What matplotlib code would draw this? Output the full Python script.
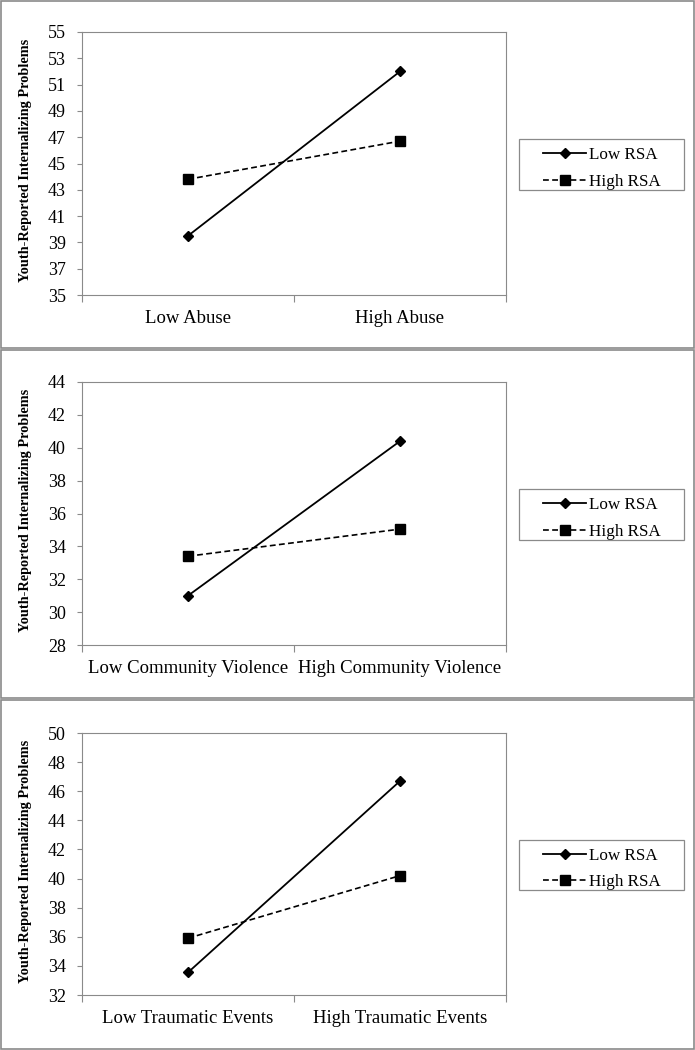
import numpy as np
import matplotlib.pyplot as plt
from matplotlib.patches import Rectangle

plt.rcParams['font.family'] = ['Liberation Serif', 'DejaVu Serif']

# data
cats_abuse = ["Low Abuse", "High Abuse"]
cats_cv = ["Low Community Violence", "High Community Violence"]
cats_te = ["Low Traumatic Events", "High Traumatic Events"]

low_rsa_abuse = [39.5, 52.0]
high_rsa_abuse = [43.8, 46.7]
low_rsa_cv = [31.0, 40.4]
high_rsa_cv = [33.4, 35.05]
low_rsa_te = [33.55, 46.7]
high_rsa_te = [35.9, 40.2]

yticks_abuse = list(range(35, 56, 2))
yticks_cv = list(range(28, 45, 2))
yticks_te = list(range(32, 51, 2))

series_labels = ["Low RSA", "High RSA"]
ylabel = "Youth-Reported Internalizing Problems"

W, H = 695, 1050
fig = plt.figure(figsize=(W / 100, H / 100), dpi=100)

gray = '#8a8a8a'


def fx(px):
    return px / W


def fy(py):
    return 1 - py / H


panels = [
    # border top/bottom, axes top/bottom, legend box top/bottom
    (1, 348, 32, 295, 139, 190, cats_abuse, low_rsa_abuse, high_rsa_abuse, yticks_abuse),
    (350, 698, 382, 645, 489, 540, cats_cv, low_rsa_cv, high_rsa_cv, yticks_cv),
    (700, 1049, 733, 995, 840, 890, cats_te, low_rsa_te, high_rsa_te, yticks_te),
]

for btop, bbot, atop, abot, ltop, lbot, cats, low, high, yt in panels:
    # panel frame
    fig.patches.append(Rectangle((fx(1), fy(bbot)), fx(693), (bbot - btop) / H,
                                 transform=fig.transFigure, fill=False,
                                 edgecolor=gray, linewidth=1.2))
    # legend frame
    fig.patches.append(Rectangle((fx(519), fy(lbot)), fx(684 - 519), (lbot - ltop) / H,
                                 transform=fig.transFigure, fill=False,
                                 edgecolor=gray, linewidth=0.9))
    ax = fig.add_axes([fx(82), fy(abot), fx(506 - 82), (abot - atop) / H])
    x = np.arange(len(cats)) + 0.5
    ax.plot(x, low, color='black', lw=1.3, marker='D', markersize=5.5,
            label=series_labels[0])
    ax.plot(x, high, color='black', lw=1.2, ls=(0, (3.5, 2)), marker='s',
            markersize=6.5, label=series_labels[1])
    ax.set_xlim(0, len(cats))
    ax.set_ylim(yt[0], yt[-1])
    ax.set_yticks(yt)
    ax.tick_params(axis='y', labelsize=13, length=3.6, color=gray, pad=8)
    ax.set_xticks(range(len(cats) + 1))
    ax.set_xticklabels([])
    ax.set_xticks(x, minor=True)
    ax.set_xticklabels(cats, minor=True)
    ax.tick_params(axis='x', which='major', length=5, color=gray)
    ax.tick_params(axis='x', which='minor', length=0, labelsize=13.5, pad=11)
    for s in ax.spines.values():
        s.set_color(gray)
    ax.set_ylabel(ylabel, fontsize=10.3, fontweight='bold')
    ax.yaxis.set_label_coords(-0.119, 0.51)
    ax.legend(loc='center', bbox_to_anchor=(fx(602), fy((ltop + lbot) / 2 + 4)),
              bbox_transform=fig.transFigure, frameon=False, fontsize=12.3,
              handlelength=2.5, handletextpad=0.15, borderpad=0,
              labelspacing=0.6, borderaxespad=0)

fig.savefig("out.png", dpi=100)
